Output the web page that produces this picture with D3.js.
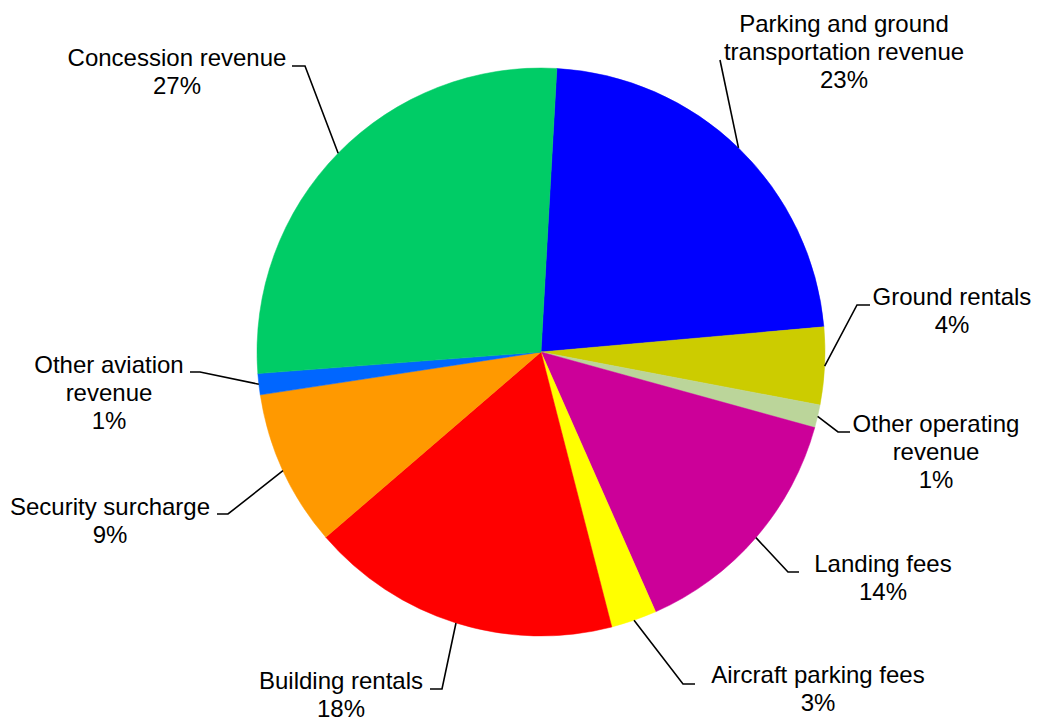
<!DOCTYPE html>
<html>
<head>
<meta charset="utf-8">
<script src="https://cdn.jsdelivr.net/npm/d3@7"></script>
<style>
  body { margin: 0; background: #fff; }
  svg { display: block; }
  text { font-family: "Liberation Sans", Arial, sans-serif; font-size: 24px; fill: #000; }
</style>
</head>
<body>
<svg width="1037" height="724"></svg>
<script>
// Revenue shares, clockwise from the top
const categories = [
    "Parking and ground\ntransportation revenue",
    "Ground rentals",
    "Other operating\nrevenue",
    "Landing fees",
    "Aircraft parking fees",
    "Building rentals",
    "Security surcharge",
    "Other aviation\nrevenue",
    "Concession revenue"
];
const shares = [22.7, 4.4, 1.3, 14.1, 2.6, 17.7, 8.9, 1.2, 27.1];
const colors = ["#0000ff", "#cccc00", "#bbd59a", "#cc0099", "#ffff00", "#ff0000", "#ff9900", "#0066ff", "#00cc66"];

// where each label sits: text centre x, first baseline, elbow and end of the leader line
const labelLayout = [
    {x: 844, y: 32, elbow: [720, 60], end: null},
    {x: 952, y: 305, elbow: [857, 305], end: [870, 305]},
    {x: 936, y: 432, elbow: [838, 432], end: [850, 432]},
    {x: 883, y: 572, elbow: [788, 572], end: [799, 572]},
    {x: 818, y: 683, elbow: [683, 684], end: [695, 684]},
    {x: 341, y: 689, elbow: [442, 689], end: [430, 689]},
    {x: 110, y: 515, elbow: [228, 514], end: [217, 514]},
    {x: 109, y: 373, elbow: [200, 372], end: [190, 372]},
    {x: 177, y: 66, elbow: [305, 66], end: [292, 66]}
];

var svg = d3.select("svg"),
    cx = 541,
    cy = 352,
    radius = 284,
    lineHeight = 28;

var start = 3.2 * Math.PI / 180;

var pie = d3.pie()
    .sort(null)
    .startAngle(start)
    .endAngle(start + 2 * Math.PI)
    .value(function(d) { return d; });

var arc = d3.arc().innerRadius(0).outerRadius(radius);

var arcs = pie(shares);
var pct = d3.format(".0f");

var g = svg.append("g")
    .attr("transform", "translate(" + cx + "," + cy + ")");

g.selectAll(".slice")
    .data(arcs)
    .enter()
    .append("path")
    .attr("class", "slice")
    .attr("d", arc)
    .attr("fill", function(d, i) { return colors[i]; })
    .attr("stroke", function(d, i) { return colors[i]; })
    .attr("stroke-width", 0.5);

// leader lines start on the rim at the middle of each slice
svg.selectAll(".leader")
    .data(arcs)
    .enter()
    .append("polyline")
    .attr("class", "leader")
    .attr("fill", "none")
    .attr("stroke", "#000")
    .attr("stroke-width", 1.6)
    .attr("points", function(d, i) {
        var a = (d.startAngle + d.endAngle) / 2;
        var p = [cx + radius * Math.sin(a), cy - radius * Math.cos(a)];
        var pts = [p, labelLayout[i].elbow];
        if (labelLayout[i].end) pts.push(labelLayout[i].end);
        return pts.map(function(q) { return q.join(","); }).join(" ");
    });

var labels = svg.selectAll(".label")
    .data(arcs)
    .enter()
    .append("text")
    .attr("class", "label")
    .attr("text-anchor", "middle");

labels.each(function(d, i) {
    var lines = categories[i].split("\n").concat([pct(d.data) + "%"]);
    var t = d3.select(this);
    lines.forEach(function(line, k) {
        t.append("tspan")
            .attr("x", labelLayout[i].x)
            .attr("y", labelLayout[i].y + k * lineHeight)
            .text(line);
    });
});
</script>
</body>
</html>
